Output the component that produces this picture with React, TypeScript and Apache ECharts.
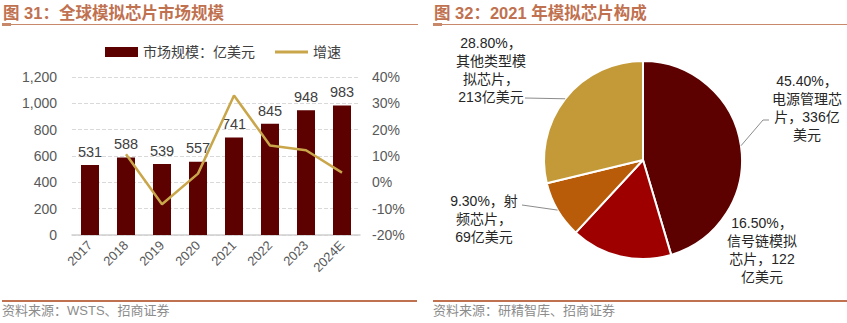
import React, { useEffect, useRef } from "react";
import * as echarts from "echarts";

const years = ["2017", "2018", "2019", "2020", "2021", "2022", "2023", "2024E"];
const marketSize = [531, 588, 539, 557, 741, 845, 948, 983];
const growth = [null, 10.7, -8.3, 3.3, 33.0, 14.0, 12.2, 3.7];
const leftTicks = { min: 0, max: 1200, interval: 200 };
const rightTicks = { min: -20, max: 40, interval: 10 };

const pieNames = ["电源管理芯片", "信号链模拟芯片", "射频芯片", "其他类型模拟芯片"];
const pieValues = [336, 122, 69, 213];
const piePct = ["45.40%", "16.50%", "9.30%", "28.80%"];
const pieLabelText = [
  `${piePct[0]}，\n电源管理芯\n片，${pieValues[0]}亿\n美元`,
  `${piePct[1]}，\n信号链模拟\n芯片，${pieValues[1]}\n亿美元`,
  `${piePct[2]}，射\n频芯片，\n${pieValues[2]}亿美元`,
  `${piePct[3]}，\n其他类型模\n拟芯片，\n${pieValues[3]}亿美元`,
];
const pieColors = ["#5C0000", "#9E0000", "#B85C0A", "#C49A38"];

// layout (not data)
const PIE_CX = 643;
const PIE_CY = 160;
const PIE_R = 99;
const pieLabelPos = [
  [807, 108],
  [762, 250],
  [484, 219],
  [491, 70],
];
// leader line path after the slice anchor (null = no leader)
const leaderTail: (number[][] | null)[] = [
  [[763, 120], [769, 120]],
  null,
  [[522, 205]],
  [[525, 98]],
];

const FONT = '"Liberation Sans", Arial, "Noto Sans CJK SC", sans-serif';
const TITLE_COLOR = "#C0714F";

function sliceAnchor(i: number) {
  const total = pieValues.reduce((a, b) => a + b, 0);
  const before = pieValues.slice(0, i).reduce((a, b) => a + b, 0);
  const mid = ((before + pieValues[i] / 2) / total) * Math.PI * 2;
  return [PIE_CX + PIE_R * Math.sin(mid), PIE_CY - PIE_R * Math.cos(mid)];
}

export default function App() {
  const ref = useRef<HTMLDivElement>(null);
  useEffect(() => {
    document.body.style.margin = "0";
    const chart = echarts.init(ref.current!, null, { renderer: "svg" });
    const leaders = leaderTail
      .map((tail, i) =>
        tail
          ? {
              type: "polyline",
              shape: { points: [sliceAnchor(i), ...tail] },
              style: { stroke: "#8c8c8c", lineWidth: 1, fill: null },
              z: 10,
            }
          : null
      )
      .filter(Boolean);
    const option: any = {
      animation: false,
      textStyle: { fontFamily: FONT },
      legend: {
        left: 100,
        top: 40,
        itemWidth: 33,
        itemHeight: 10,
        itemGap: 20,
        textStyle: { fontSize: 14, color: "#404040", fontFamily: FONT },
        data: [
          { name: "市场规模：亿美元", icon: "rect" },
          { name: "增速", icon: "path://M0,0 L33,0 L33,3 L0,3 Z" },
        ],
      },
      grid: { left: 72, right: 487, top: 77, bottom: 88 },
      xAxis: {
        type: "category",
        data: years,
        axisLine: { lineStyle: { color: "#d0d0d0", width: 1.5 } },
        axisTick: { show: false },
        axisLabel: { rotate: 45, fontSize: 13, color: "#595959", margin: 8, interval: 0 },
      },
      yAxis: [
        {
          type: "value",
          ...leftTicks,
          axisLabel: {
            fontSize: 14,
            color: "#595959",
            margin: 15,
            formatter: (v: number) => v.toLocaleString("en-US"),
          },
          splitLine: { lineStyle: { color: "#d9d9d9", type: "dashed" } },
          axisLine: { show: false },
        },
        {
          type: "value",
          ...rightTicks,
          axisLabel: { fontSize: 14, color: "#595959", margin: 12, formatter: "{value}%" },
          splitLine: { show: false },
          axisLine: { show: false },
        },
      ],
      series: [
        {
          name: "市场规模：亿美元",
          type: "bar",
          data: marketSize,
          barWidth: "50%",
          itemStyle: { color: "#5C0000" },
          label: { show: true, position: "top", fontSize: 14.5, color: "#404040", distance: 6 },
        },
        {
          name: "增速",
          type: "line",
          yAxisIndex: 1,
          data: growth,
          symbol: "none",
          lineStyle: { color: "#C9A64A", width: 2.5 },
          itemStyle: { color: "#C9A64A" },
        },
        {
          name: "构成",
          type: "pie",
          center: [PIE_CX, PIE_CY],
          radius: PIE_R,
          startAngle: 90,
          clockwise: true,
          itemStyle: { borderColor: "#ffffff", borderWidth: 2 },
          label: {
            show: true,
            position: "outside",
            fontSize: 14,
            lineHeight: 18,
            color: "#262626",
            align: "center",
            overflow: "none",
            formatter: (p: any) => pieLabelText[p.dataIndex],
          },
          labelLine: { show: false },
          labelLayout: (p: any) => ({
            x: pieLabelPos[p.dataIndex][0],
            y: pieLabelPos[p.dataIndex][1],
            align: "center",
            verticalAlign: "middle",
          }),
          data: pieNames.map((n, i) => ({
            name: n,
            value: pieValues[i],
            itemStyle: { color: pieColors[i] },
          })),
        },
      ],
      graphic: [
        { type: "text", left: 3, top: 5, style: { text: "图 31：全球模拟芯片市场规模", font: `bold 16.5px ${FONT}`, fill: TITLE_COLOR } },
        { type: "text", left: 434, top: 5, style: { text: "图 32：2021 年模拟芯片构成", font: `bold 16.5px ${FONT}`, fill: TITLE_COLOR } },
        { type: "line", shape: { x1: 2, y1: 24.5, x2: 418, y2: 24.5 }, style: { stroke: "#C8896A", lineWidth: 1 } },
        { type: "line", shape: { x1: 433, y1: 24.5, x2: 847, y2: 24.5 }, style: { stroke: "#C8896A", lineWidth: 1 } },
        { type: "rect", shape: { x: 2, y: 23, width: 9, height: 3 }, style: { fill: "#C8896A" } },
        { type: "rect", shape: { x: 433, y: 23, width: 9, height: 3 }, style: { fill: "#C8896A" } },
        { type: "line", shape: { x1: 2, y1: 301, x2: 417, y2: 301 }, style: { stroke: "#C0714F", lineWidth: 2 } },
        { type: "line", shape: { x1: 433, y1: 301, x2: 847, y2: 301 }, style: { stroke: "#C0714F", lineWidth: 2 } },
        { type: "text", left: 2, top: 304, style: { text: "资料来源：WSTS、招商证券", font: `13px ${FONT}`, fill: "#8c8c8c" } },
        { type: "text", left: 433, top: 304, style: { text: "资料来源：研精智库、招商证券", font: `13px ${FONT}`, fill: "#8c8c8c" } },
        ...leaders,
      ],
    };
    chart.setOption(option);
    return () => chart.dispose();
  }, []);
  return <div ref={ref} style={{ width: 847, height: 323 }} />;
}
